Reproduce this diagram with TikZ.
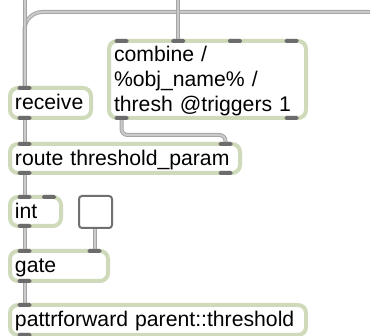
\documentclass[tikz,border=0pt]{standalone}
\usepackage{fontspec}
\setmainfont{Liberation Sans}
\usetikzlibrary{calc, positioning, backgrounds}
\definecolor{objrim}{RGB}{206,218,186}
\definecolor{portgray}{RGB}{108,108,108}
\definecolor{cablefill}{RGB}{202,202,202}
\definecolor{cableedge}{RGB}{165,165,165}
\definecolor{togglerim}{RGB}{112,112,112}
\newcommand{\objstrut}{\rule[-2.9pt]{0pt}{12.5pt}}
\tikzset{
  maxobj/.style={draw=objrim, line width=2pt, fill=white, rounded corners=4pt,
    anchor=north west, outer sep=0pt, inner xsep=2.5pt, inner ysep=0pt,
    align=left, text width=#1, font=\fontsize{10.6}{12.5}\selectfont,
    execute at begin node=\objstrut, execute at end node=\objstrut},
  togglebox/.style={draw=togglerim, line width=1pt, fill=white, rounded corners=1.5pt,
    anchor=north west, outer sep=0pt, minimum width=16.5pt, minimum height=16pt},
  port/.style={fill=portgray, rounded corners=0.8pt, minimum width=7pt,
    minimum height=2pt, inner sep=0pt},
  cable/.style={draw=cableedge, line width=0.5pt, double=cablefill, double distance=1pt},
}
\begin{document}
\begin{tikzpicture}[x=0.5pt, y=-0.5pt]
      \useasboundingbox (0,0) rectangle (370,336);
      % objects
      \node[maxobj=35.5pt, minimum height=15pt] (rcv) at (10,88) {receive};
      \node[maxobj=93.5pt, minimum height=38.5pt] (comb) at (109,41) {combine /\\\%obj\_name\% /\\thresh @triggers 1};
      \node[maxobj=110pt, minimum height=14.5pt] (rte) at (10,144) {route threshold\_param};
      \node[maxobj=20.5pt, minimum height=14.5pt] (intobj) at (10,197) {int};
      \node[togglebox] (tgl) at (79,196) {};
      \node[maxobj=44pt, minimum height=15pt] (gate) at (10,251) {gate};
      \node[maxobj=143pt, minimum height=15pt] (pfwd) at (10,305) {pattrforward parent::threshold};
      % inlets and outlets
      \node[port] (rcvIn) at ($(rcv.north west)+(14.5,0)$) {};
      \node[port] (rcvOut) at ($(rcv.south west)+(14.5,0)$) {};
      \foreach \i in {1,...,4}
        \node[port] (combIn\i) at ($(comb.north west)+({12.5+(\i-1)*56.7},0)$) {};
      \node[port] (combOutL) at ($(comb.south west)+(12.5,0)$) {};
      \node[port] (combOutR) at ($(comb.south east)+(-14.5,0)$) {};
      \node[port] (rteInL) at ($(rte.north west)+(14.5,0)$) {};
      \node[port] (rteInR) at ($(rte.north east)+(-14.5,0)$) {};
      \node[port] (rteOutL) at ($(rte.south west)+(14.5,0)$) {};
      \node[port] (rteOutR) at ($(rte.south east)+(-14.5,0)$) {};
      \node[port] (intInL) at ($(intobj.north west)+(14.5,0)$) {};
      \node[port] (intInR) at ($(intobj.north east)+(-12,0)$) {};
      \node[port] (intOut) at ($(intobj.south west)+(14.5,0)$) {};
      \node[port] (gateInL) at ($(gate.north west)+(14.5,0)$) {};
      \node[port] (gateInR) at ($(gate.north east)+(-13.5,0)$) {};
      \node[port] (gateOut) at ($(gate.south west)+(14.5,0)$) {};
      \node[port] (pfwdIn) at ($(pfwd.north west)+(14.5,0)$) {};
      \node[port] (pfwdOut) at ($(pfwd.south west)+(14.5,0)$) {};
      % patch cords
      \coordinate (topA) at (24.5,0);
      \coordinate (topB) at (178.2,0);
      \coordinate (busEnd) at (370,12);
      \begin{scope}[on background layer]
        \draw[cable, rounded corners=9pt] (busEnd) -| (rcvIn.center);
        \draw[cable] (topA) -- (rcvIn.center);
        \draw[cable] (topB) -- (combIn2.center);
        \draw[cable] (rcvOut.center) -- (rteInL.center);
        \draw[cable, rounded corners=3pt] (combOutL.center) -- ++(0,17) -| (rteInR.center);
        \draw[cable] (rteOutL.center) -- (intInL.center);
        \draw[cable] (intOut.center) -- (gateInL.center);
        \draw[cable] (tgl.south -| gateInR.center) -- (gateInR.center);
        \draw[cable] (gateOut.center) -- (pfwdIn.center);
      \end{scope}
\end{tikzpicture}
\end{document}
